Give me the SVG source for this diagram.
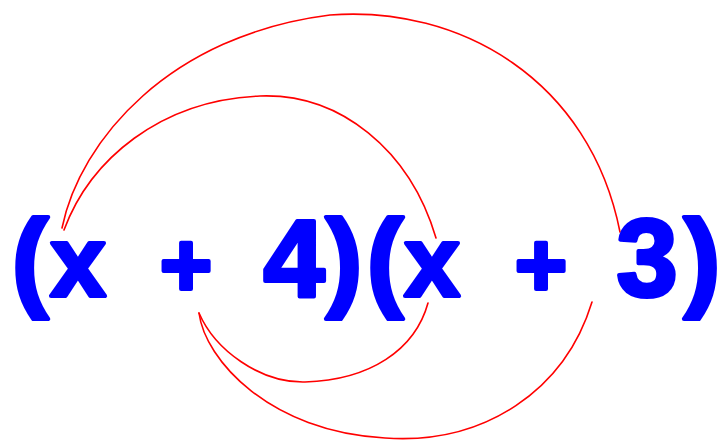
<svg xmlns="http://www.w3.org/2000/svg" width="722" height="440" viewBox="0 0 722 440">
<style>
.t{font-family:"Liberation Sans",Arial,sans-serif;font-weight:bold;fill:#0000ff;stroke:#0000ff;stroke-width:4;stroke-linejoin:round;text-anchor:middle}
.p{font-size:110px}
.v{font-size:100px}
.o{font-size:90px}
.arc{fill:none;stroke:#ff0000;stroke-width:1.6;stroke-linecap:round}
</style>
<rect width="722" height="440" fill="#ffffff"/>
<g id="connectors">
<path class="arc" d="M62,228 C80,140 170,35 330,15 C460,5 590,80 620,232"/>
<path class="arc" d="M64,230 C90,160 160,100 260,96 C340,93 410,150 436,238"/>
<path class="arc" d="M199,313 C215,350 260,383 305,382 C370,380 415,350 428,303"/>
<path class="arc" d="M199,313 C205,360 270,432 385,438 C485,445 565,390 592,302"/>
</g>
<g id="factor1">
<text class="t p" x="30" y="296">(</text>
<g id="x1"><text class="t v" x="78" y="296">x</text></g>
<text class="t o" x="186" y="296">+</text>
<g id="four"><text class="t p" x="294" y="296">4</text></g>
<text class="t p" x="344" y="296">)</text>
</g>
<g id="factor2">
<text class="t p" x="385" y="296">(</text>
<g id="x2"><text class="t v" x="432" y="296">x</text></g>
<text class="t o" x="541" y="296">+</text>
<g id="three"><text class="t p" x="647" y="296">3</text></g>
<text class="t p" x="702" y="296">)</text>
</g>
</svg>
